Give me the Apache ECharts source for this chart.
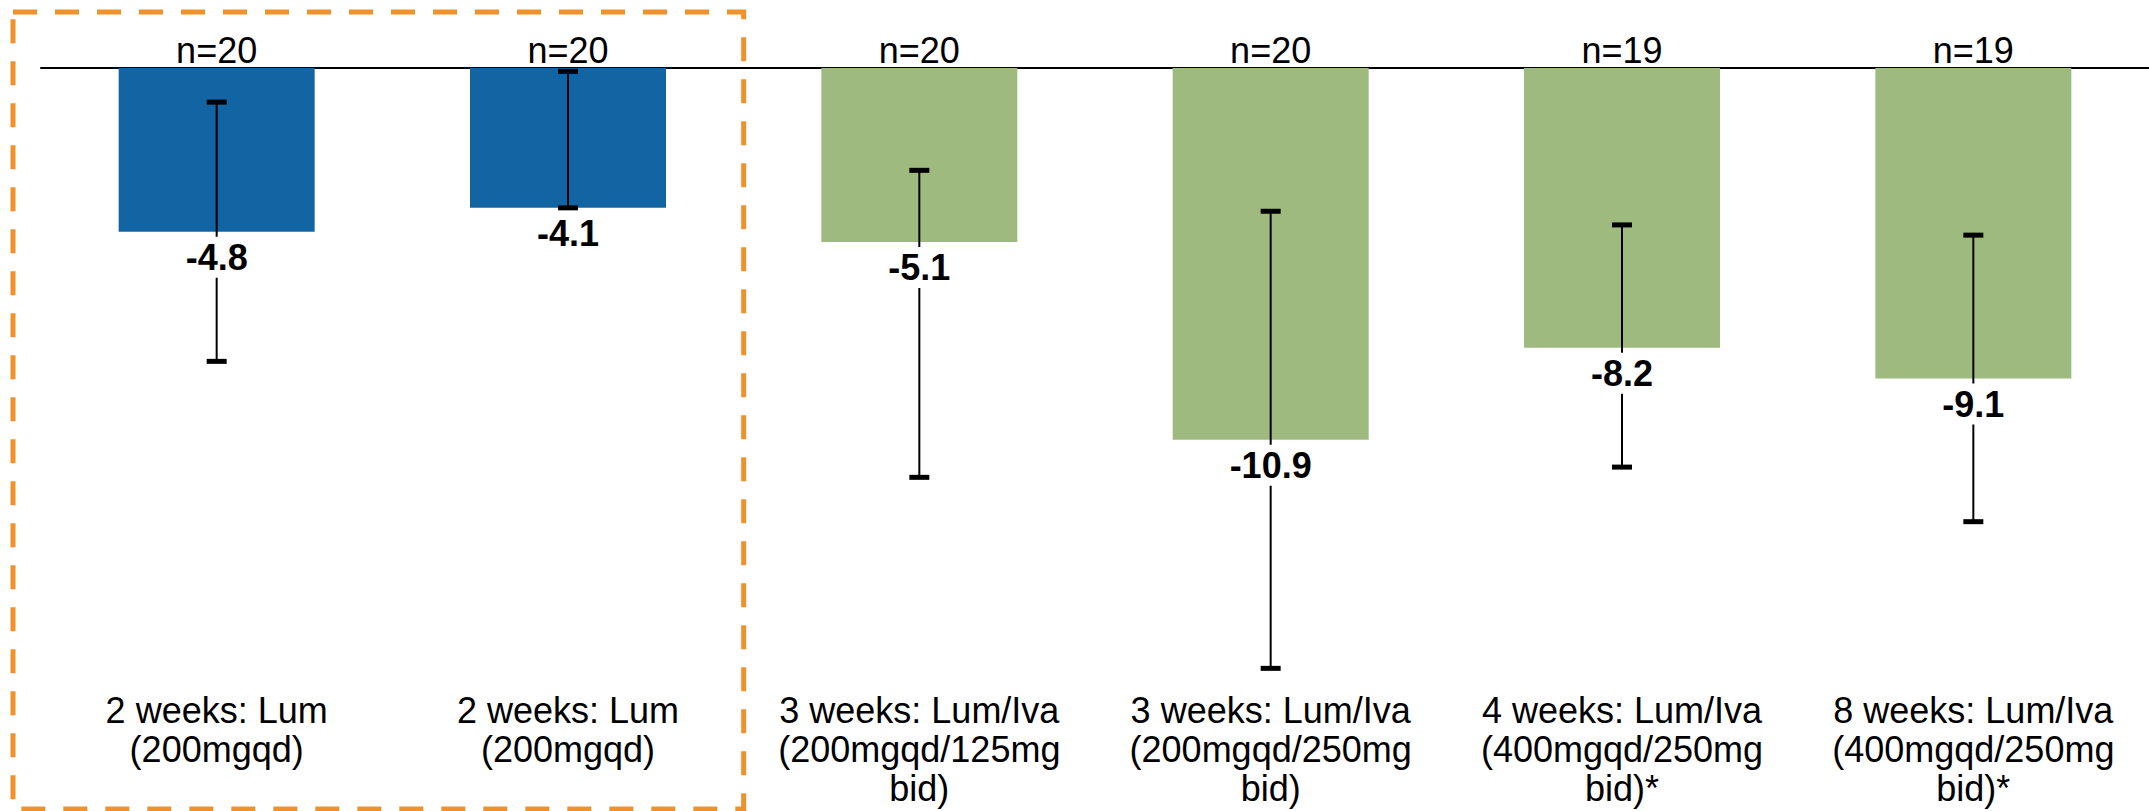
<!DOCTYPE html>
<html>
<head>
<meta charset="utf-8">
<script src="https://cdn.jsdelivr.net/npm/echarts@6/dist/echarts.min.js"></script>
<style>
  html, body { margin: 0; padding: 0; background: #fff; }
  #chart { width: 2149px; height: 811px; }
</style>
</head>
<body>
<div id="chart"></div>
<script>
// ---- data ----
const categories = [
  '2 weeks: Lum\n(200mgqd)',
  '2 weeks: Lum\n(200mgqd)',
  '3 weeks: Lum/Iva\n(200mgqd/125mg\nbid)',
  '3 weeks: Lum/Iva\n(200mgqd/250mg\nbid)',
  '4 weeks: Lum/Iva\n(400mgqd/250mg\nbid)*',
  '8 weeks: Lum/Iva\n(400mgqd/250mg\nbid)*'
];
const sampleSizes = [20, 20, 20, 20, 19, 19];
const meanChange = [-4.8, -4.1, -5.1, -10.9, -8.2, -9.1];
const errorLow  = [-8.6, -4.1, -12.0, -17.6, -11.7, -13.3];
const errorHigh = [-1.0, -0.1, -3.0, -4.2, -4.6, -4.9];
const nLabels = sampleSizes.map(n => 'n=' + n);

const FONT = "'Liberation Sans', Arial, Helvetica, sans-serif";
const BLUE = '#1264A3';
const GREEN = '#9EBA7F';
const ORANGE = '#F0922B';

const chart = echarts.init(document.getElementById('chart'), null, { renderer: 'svg' });

const errData = meanChange.map((v, i) => [i, errorLow[i], errorHigh[i], v]);

chart.setOption({
  animation: false,
  backgroundColor: '#fff',
  grid: { left: 41, right: 0, top: 68, bottom: 129, containLabel: false },
  xAxis: [
    {
      type: 'category',
      position: 'top',
      data: nLabels,
      axisLine: { show: true, onZero: false, lineStyle: { color: '#000', width: 2 } },
      axisTick: { show: false },
      splitLine: { show: false },
      axisLabel: {
        interval: 0, margin: 18, color: '#000',
        fontFamily: FONT, fontSize: 36, verticalAlign: 'middle'
      }
    },
    {
      type: 'category',
      position: 'bottom',
      data: categories,
      axisLine: { show: false },
      axisTick: { show: false },
      splitLine: { show: false },
      axisLabel: {
        interval: 0, margin: 9, color: '#000',
        fontFamily: FONT, fontSize: 36, lineHeight: 39, verticalAlign: 'top'
      }
    }
  ],
  yAxis: {
    type: 'value', min: -18, max: 0, show: false,
    splitLine: { show: false }
  },
  series: [
    {
      type: 'bar',
      xAxisIndex: 0,
      data: meanChange,
      barWidth: 196,
      z: 1,
      itemStyle: {
        color: p => categories[p.dataIndex].indexOf('Iva') >= 0 ? GREEN : BLUE
      },
      label: { show: false }
    },
    {
      type: 'custom',
      xAxisIndex: 0,
      z: 5,
      data: errData,
      renderItem: function (params, api) {
        const x = api.value(0);
        const pLo = api.coord([x, api.value(1)]);
        const pHi = api.coord([x, api.value(2)]);
        const v = api.value(3);
        const pV = api.coord([x, v]);
        const capW = 20, capH = 5;
        return {
          type: 'group',
          children: [
            { type: 'line', shape: { x1: pLo[0], y1: pLo[1], x2: pHi[0], y2: pHi[1] },
              style: { stroke: '#000', lineWidth: 2 } },
            { type: 'rect', shape: { x: pHi[0] - capW / 2, y: pHi[1] - capH / 2, width: capW, height: capH },
              style: { fill: '#000' } },
            { type: 'rect', shape: { x: pLo[0] - capW / 2, y: pLo[1] - capH / 2, width: capW, height: capH },
              style: { fill: '#000' } },
            { type: 'text', x: pV[0], y: pV[1] + 5,
              style: {
                text: v.toFixed(1), align: 'center', verticalAlign: 'top',
                fontFamily: FONT, fontSize: 36, fontWeight: 'bold', lineHeight: 36,
                fill: '#000', backgroundColor: '#fff', padding: [3, 4, 2, 4]
              } }
          ]
        };
      }
    }
  ]
});

// dashed highlight box around the first two (Lum only) groups
const p0 = chart.convertToPixel({ xAxisIndex: 0 }, 0);
const p1 = chart.convertToPixel({ xAxisIndex: 0 }, 1);
const boxRight = p1 + (p1 - p0) / 2;
const boxLeft = 13, boxTop = 12, boxBottom = 809;
chart.setOption({
  graphic: [{
    type: 'rect',
    z: 10,
    shape: { x: boxLeft, y: boxTop, width: boxRight - boxLeft, height: boxBottom - boxTop },
    style: { fill: 'none', stroke: ORANGE, lineWidth: 5, lineDash: [24, 18] }
  }]
});
</script>
</body>
</html>
